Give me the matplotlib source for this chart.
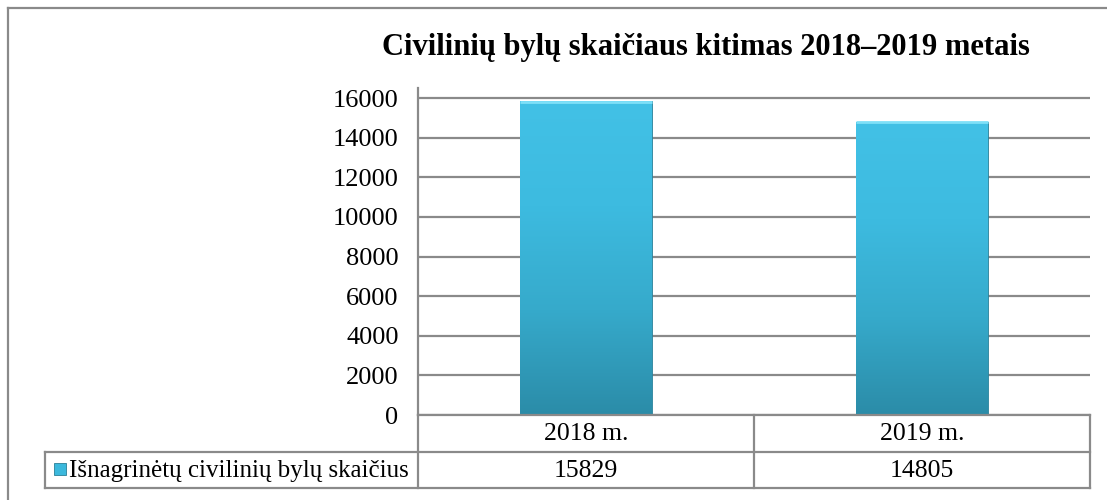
import matplotlib.pyplot as plt
import numpy as np
from matplotlib.colors import LinearSegmentedColormap
from matplotlib.lines import Line2D
from matplotlib.patches import Rectangle

# data
years = ["2018 m.", "2019 m."]
cases = [15829, 14805]
series_name = "Išnagrinėtų civilinių bylų skaičius"
title = "Civilinių bylų skaičiaus kitimas 2018–2019 metais"

plt.rcParams['font.family'] = ['Liberation Serif', 'DejaVu Serif']

W, H = 1107, 500
fig = plt.figure(figsize=(W / 100, H / 100), dpi=100)

def fx(px):
    return px / W

def fy(py):
    return 1 - py / H

grey = "#8a8a8a"
left, right, top, bottom = 418, 1090, 88, 415
ax = fig.add_axes([fx(left), fy(bottom), fx(right - left), fy(top) - fy(bottom)])

ax.set_yticks(range(0, 16001, 2000))
ax.tick_params(axis='y', length=0, labelsize=19, pad=14)
ax.set_xticks([])
for s in ["top", "right", "bottom"]:
    ax.spines[s].set_visible(False)
ax.spines["left"].set_color(grey)
ax.spines["left"].set_linewidth(1.6)
ax.yaxis.grid(True, color=grey, linewidth=1.6)
ax.set_axisbelow(True)

cmap = LinearSegmentedColormap.from_list("bar", ["#2b8ca8", "#36aacb", "#3dbbe0", "#42c1e6"])
x = np.arange(len(years))
bars = ax.bar(x, cases, width=0.39, color="#3bb8dc", edgecolor="#2a7f97", linewidth=0.6, zorder=2)
grad = np.linspace(0, 1, 256).reshape(-1, 1)
for b in bars:
    x0, w, h = b.get_x(), b.get_width(), b.get_height()
    im = ax.imshow(grad, cmap=cmap, origin="lower", aspect="auto",
                   extent=[x0, x0 + w, 0, h], zorder=2.5)
    im.set_clip_path(b)
    # thin light edge on top
    ax.plot([x0, x0 + w], [h - 40, h - 40], color="#7ee0f8", lw=2, zorder=2.6, solid_capstyle="butt")
ax.set_xlim(-0.5, len(years) - 0.5)
ax.set_ylim(0, 16505)

fig.text(fx(706), fy(48), title, ha="center", va="center", fontsize=22, fontweight="bold")

# data table under the axis
row1, row2, row3 = 415, 452, 488
lw = 1.6
def hline(y, x0, x1):
    fig.add_artist(Line2D([fx(x0), fx(x1)], [fy(y), fy(y)], color=grey, lw=lw))
def vline(xp, y0, y1):
    fig.add_artist(Line2D([fx(xp), fx(xp)], [fy(y0), fy(y1)], color=grey, lw=lw))

hline(row1, left, right)
hline(row2, 45, right)
hline(row3, 45, right)
vline(45, row2, row3)
cell_w = (right - left) / len(years)
for i in range(len(years) + 1):
    vline(left + i * cell_w, row1, row3)
for i, (yr, v) in enumerate(zip(years, cases)):
    cx = left + (i + 0.5) * cell_w
    fig.text(fx(cx), fy((row1 + row2) / 2 + 1), yr, ha="center", va="center", fontsize=18.5)
    fig.text(fx(cx), fy((row2 + row3) / 2 + 1), str(v), ha="center", va="center", fontsize=18.5)

# legend key + label
fig.add_artist(Rectangle((fx(54), fy(475)), fx(12), fy(463) - fy(475),
                         facecolor="#3bb8dc", edgecolor="#2a7f97", lw=0.6))
fig.text(fx(69), fy((row2 + row3) / 2 + 1), series_name, ha="left", va="center", fontsize=18)

# outer frame (top & left visible)
hline(8, 8, W)
vline(8, 8, H)

fig.savefig("out.png", dpi=100)
